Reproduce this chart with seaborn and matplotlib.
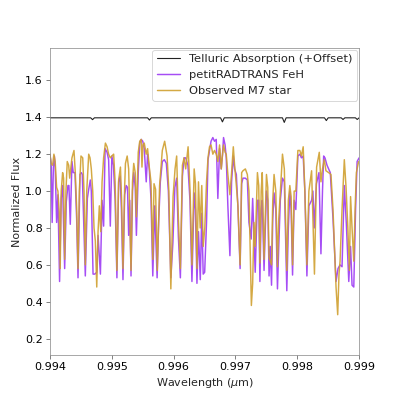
import numpy as np
import pandas as pd
import seaborn as sns
from matplotlib import pyplot as plt

# telluric transmission (offset to sit at ~1.4)
telluric_wl = [0.99400, 0.99466, 0.99469, 0.99472, 0.99558, 0.99561, 0.99564,
               0.99676, 0.99679, 0.99682, 0.99776, 0.99779, 0.99782, 0.99844,
               0.99847, 0.99850, 0.99871, 0.99874, 0.99877, 0.99894, 0.99897,
               0.99900]
telluric_flux = [1.397, 1.397, 1.387, 1.397, 1.397, 1.385, 1.397,
                 1.397, 1.375, 1.397, 1.397, 1.372, 1.397, 1.397,
                 1.382, 1.397, 1.397, 1.388, 1.397, 1.397, 1.388,
                 1.397]

# petitRADTRANS FeH model
model_wl = [0.994000, 0.994021, 0.994037, 0.994057, 0.994073, 0.994086, 0.994109,
            0.994130, 0.994157, 0.994183, 0.994206, 0.994239, 0.994265, 0.994292,
            0.994308, 0.994330, 0.994357, 0.994378, 0.994406, 0.994433, 0.994455,
            0.994487, 0.994508, 0.994524, 0.994573, 0.994606, 0.994628, 0.994654,
            0.994670, 0.994698, 0.994726, 0.994758, 0.994779, 0.994817, 0.994844,
            0.994869, 0.994893, 0.994925, 0.994950, 0.994977, 0.995002, 0.995028,
            0.995055, 0.995084, 0.995112, 0.995136, 0.995157, 0.995182, 0.995209,
            0.995234, 0.995255, 0.995274, 0.995291, 0.995312, 0.995336, 0.995356,
            0.995380, 0.995399, 0.995429, 0.995453, 0.995477, 0.995502, 0.995526,
            0.995558, 0.995580, 0.995607, 0.995635, 0.995664, 0.995696, 0.995734,
            0.995761, 0.995786, 0.995818, 0.995851, 0.995883, 0.995916, 0.995956,
            0.995989, 0.996021, 0.996050, 0.996078, 0.996110, 0.996143, 0.996170,
            0.996196, 0.996232, 0.996265, 0.996297, 0.996333, 0.996354, 0.996378,
            0.996403, 0.996432, 0.996456, 0.996479, 0.996503, 0.996533, 0.996557,
            0.996581, 0.996606, 0.996635, 0.996662, 0.996690, 0.996716, 0.996744,
            0.996771, 0.996792, 0.996808, 0.996833, 0.996852, 0.996878, 0.996911,
            0.996938, 0.996966, 0.996987, 0.997015, 0.997041, 0.997076, 0.997101,
            0.997122, 0.997161, 0.997193, 0.997219, 0.997255, 0.997279, 0.997320,
            0.997356, 0.997377, 0.997396, 0.997417, 0.997434, 0.997463, 0.997502,
            0.997523, 0.997544, 0.997563, 0.997584, 0.997604, 0.997625, 0.997653,
            0.997680, 0.997701, 0.997726, 0.997761, 0.997791, 0.997831, 0.997856,
            0.997880, 0.997901, 0.997924, 0.997950, 0.997977, 0.998010, 0.998042,
            0.998067, 0.998096, 0.998123, 0.998156, 0.998188, 0.998232, 0.998253,
            0.998274, 0.998310, 0.998351, 0.998383, 0.998408, 0.998427, 0.998448,
            0.998481, 0.998534, 0.998578, 0.998627, 0.998659, 0.998692, 0.998724,
            0.998761, 0.998794, 0.998833, 0.998862, 0.998886, 0.998914, 0.998943,
            0.998968, 0.999000]
model_flux = [1.20, 1.15, 0.83, 1.13, 1.19, 1.13, 0.83,
              0.98, 0.51, 0.96, 1.03, 0.58, 0.94, 1.03,
              1.03, 0.82, 1.16, 1.10, 1.10, 0.85, 0.53,
              1.09, 1.10, 1.09, 0.54, 0.96, 1.01, 1.06,
              1.00, 0.55, 0.55, 0.56, 0.76, 0.55, 0.95,
              0.81, 1.23, 1.21, 1.17, 0.81, 1.19, 1.14,
              0.95, 0.53, 1.05, 1.08, 0.90, 0.52, 0.98,
              1.03, 1.02, 0.76, 0.95, 0.54, 1.00, 1.10,
              1.02, 0.76, 1.10, 1.26, 1.28, 1.27, 1.23,
              1.05, 1.20, 1.12, 0.96, 0.54, 0.92, 0.53,
              0.85, 1.05, 1.16, 1.17, 1.15, 1.00, 0.53,
              0.72, 1.02, 1.07, 0.75, 0.53, 1.08, 1.18,
              1.18, 1.14, 0.95, 0.51, 0.99, 0.90, 0.50,
              0.78, 0.52, 0.88, 0.55, 0.56, 0.83, 1.17,
              1.22, 1.27, 1.29, 1.27, 1.28, 0.96, 1.23,
              1.12, 1.20, 1.29, 1.25, 1.18, 0.92, 0.65,
              1.05, 1.19, 1.12, 1.09, 0.91, 0.58, 1.04,
              1.07, 1.07, 1.06, 0.83, 0.74, 0.96, 0.56,
              0.95, 0.95, 0.51, 0.90, 0.95, 0.57, 1.00,
              0.95, 0.54, 0.70, 0.49, 0.85, 0.99, 0.90,
              0.47, 0.70, 0.95, 1.07, 1.05, 0.46, 0.80,
              1.00, 0.90, 0.545, 0.95, 0.90, 1.19, 1.20,
              1.18, 1.19, 1.00, 0.54, 0.92, 0.95, 1.00,
              0.80, 1.04, 1.10, 0.66, 1.00, 1.19, 1.18,
              1.14, 1.10, 0.85, 0.51, 0.58, 0.60, 0.59,
              1.03, 0.82, 0.51, 0.70, 0.49, 0.48, 0.90,
              1.16, 1.18]

# observed M7 star
obs_wl = [0.994000, 0.994021, 0.994044, 0.994065, 0.994086, 0.994109, 0.994130,
          0.994151, 0.994167, 0.994183, 0.994206, 0.994222, 0.994239, 0.994260,
          0.994281, 0.994304, 0.994320, 0.994336, 0.994357, 0.994390, 0.994411,
          0.994433, 0.994455, 0.994476, 0.994503, 0.994531, 0.994552, 0.994573,
          0.994596, 0.994628, 0.994649, 0.994670, 0.994693, 0.994714, 0.994735,
          0.994758, 0.994779, 0.994800, 0.994823, 0.994844, 0.994869, 0.994898,
          0.994925, 0.994950, 0.994977, 0.995002, 0.995031, 0.995055, 0.995084,
          0.995112, 0.995141, 0.995160, 0.995182, 0.995209, 0.995222, 0.995250,
          0.995274, 0.995312, 0.995336, 0.995356, 0.995380, 0.995399, 0.995429,
          0.995453, 0.995477, 0.995489, 0.995505, 0.995526, 0.995558, 0.995580,
          0.995607, 0.995635, 0.995664, 0.995684, 0.995709, 0.995737, 0.995774,
          0.995818, 0.995856, 0.995895, 0.995924, 0.995956, 0.995992, 0.996024,
          0.996050, 0.996078, 0.996110, 0.996143, 0.996170, 0.996196, 0.996235,
          0.996268, 0.996297, 0.996333, 0.996354, 0.996378, 0.996403, 0.996430,
          0.996456, 0.996479, 0.996505, 0.996533, 0.996557, 0.996581, 0.996606,
          0.996635, 0.996662, 0.996690, 0.996716, 0.996744, 0.996771, 0.996792,
          0.996808, 0.996833, 0.996852, 0.996878, 0.996911, 0.996938, 0.996966,
          0.996987, 0.997015, 0.997041, 0.997076, 0.997101, 0.997122, 0.997161,
          0.997193, 0.997219, 0.997258, 0.997279, 0.997300, 0.997320, 0.997356,
          0.997377, 0.997396, 0.997417, 0.997434, 0.997463, 0.997502, 0.997523,
          0.997544, 0.997584, 0.997604, 0.997625, 0.997653, 0.997680, 0.997701,
          0.997726, 0.997761, 0.997791, 0.997831, 0.997856, 0.997880, 0.997901,
          0.997924, 0.997950, 0.997977, 0.998010, 0.998042, 0.998067, 0.998096,
          0.998123, 0.998156, 0.998188, 0.998232, 0.998261, 0.998278, 0.998313,
          0.998356, 0.998383, 0.998408, 0.998437, 0.998464, 0.998508, 0.998545,
          0.998578, 0.998627, 0.998654, 0.998675, 0.998692, 0.998724, 0.998761,
          0.998789, 0.998818, 0.998843, 0.998862, 0.998886, 0.998914, 0.998935,
          0.998956, 0.998992]
obs_flux = [1.20, 1.15, 1.14, 1.20, 1.16, 1.02, 1.00,
            0.89, 0.58, 1.00, 1.10, 1.07, 0.63, 1.00,
            1.16, 1.14, 1.07, 1.12, 1.18, 1.22, 1.10,
            0.91, 0.58, 1.00, 1.19, 1.18, 1.00, 0.60,
            1.00, 1.20, 1.18, 1.12, 1.00, 0.80, 0.73,
            0.48, 0.78, 0.92, 0.78, 1.05, 1.18, 1.26,
            1.24, 1.20, 1.18, 1.19, 1.20, 1.05, 0.57,
            1.06, 1.13, 0.95, 0.58, 1.02, 1.15, 1.19,
            1.12, 0.57, 1.05, 1.15, 1.10, 0.86, 1.21,
            1.27, 1.28, 1.13, 1.25, 1.26, 1.20, 1.23,
            1.13, 1.05, 0.63, 1.04, 1.01, 0.57, 1.03,
            1.22, 1.27, 1.19, 1.00, 0.47, 0.97, 1.12,
            1.19, 0.85, 0.58, 1.14, 1.18, 1.12, 1.24,
            0.99, 0.60, 1.12, 1.04, 0.58, 1.05, 0.80,
            1.03, 0.70, 0.80, 1.05, 1.18, 1.24, 1.25,
            1.20, 1.22, 1.20, 1.16, 1.25, 1.12, 1.20,
            1.25, 1.21, 1.20, 1.09, 0.98, 1.10, 1.24,
            1.14, 1.03, 0.92, 0.60, 1.10, 1.11, 1.12,
            1.09, 1.00, 0.38, 0.50, 0.83, 0.70, 1.10,
            1.03, 0.61, 1.00, 1.10, 0.63, 1.09, 1.02,
            0.64, 0.60, 0.95, 1.09, 1.00, 0.59, 0.85,
            0.99, 1.20, 1.12, 0.57, 0.95, 1.03, 0.97,
            0.60, 1.00, 1.00, 1.22, 1.22, 1.19, 1.24,
            1.00, 0.60, 1.00, 1.11, 0.75, 0.55, 1.13,
            1.21, 1.05, 1.12, 1.17, 1.11, 1.10, 1.09,
            0.90, 0.48, 0.33, 0.55, 0.62, 0.90, 1.17,
            1.02, 0.80, 0.57, 0.97, 0.80, 0.62, 0.90,
            1.10, 1.16]

telluric = pd.DataFrame({'wl': telluric_wl, 'flux': telluric_flux})
model = pd.DataFrame({'wl': model_wl, 'flux': model_flux})
obs = pd.DataFrame({'wl': obs_wl, 'flux': obs_flux})

sns.set_style('white')
plt.rcParams['font.family'] = ['DejaVu Sans']
plt.rcParams['font.size'] = 12
plt.rcParams['axes.edgecolor'] = '0.55'
plt.rcParams['xtick.color'] = '0.35'
plt.rcParams['ytick.color'] = '0.35'
plt.rcParams['xtick.labelcolor'] = 'black'
plt.rcParams['ytick.labelcolor'] = 'black'

fig, ax = plt.subplots(figsize=(6, 6), dpi=66.5)

sns.lineplot(telluric, x='wl', y='flux', color='#222222', linewidth=1.2,
             estimator=None, label='Telluric Absorption (+Offset)', ax=ax)
sns.lineplot(model, x='wl', y='flux', color='#a64df5', linewidth=1.6,
             estimator=None, label='petitRADTRANS FeH', ax=ax)
sns.lineplot(obs, x='wl', y='flux', color='#d0a030', linewidth=1.6, alpha=0.9,
             estimator=None, label='Observed M7 star', ax=ax)

ax.tick_params(axis='both', direction='out', length=4, width=0.8,
               bottom=True, left=True, labelsize=12)
ax.set_xlim(0.994, 0.999)
ax.set_ylim(0.111, 1.776)
ax.set_xticks([0.994, 0.995, 0.996, 0.997, 0.998, 0.999])
ax.set_yticks([0.2, 0.4, 0.6, 0.8, 1.0, 1.2, 1.4, 1.6])
ax.set_xlabel(r'Wavelength ($\mu$m)', fontsize=12)
ax.set_ylabel('Normalized Flux', fontsize=12)
ax.legend(loc='upper right', frameon=True, fontsize=12.5, borderaxespad=0.15)

plt.savefig('out.png', dpi=66.5)
